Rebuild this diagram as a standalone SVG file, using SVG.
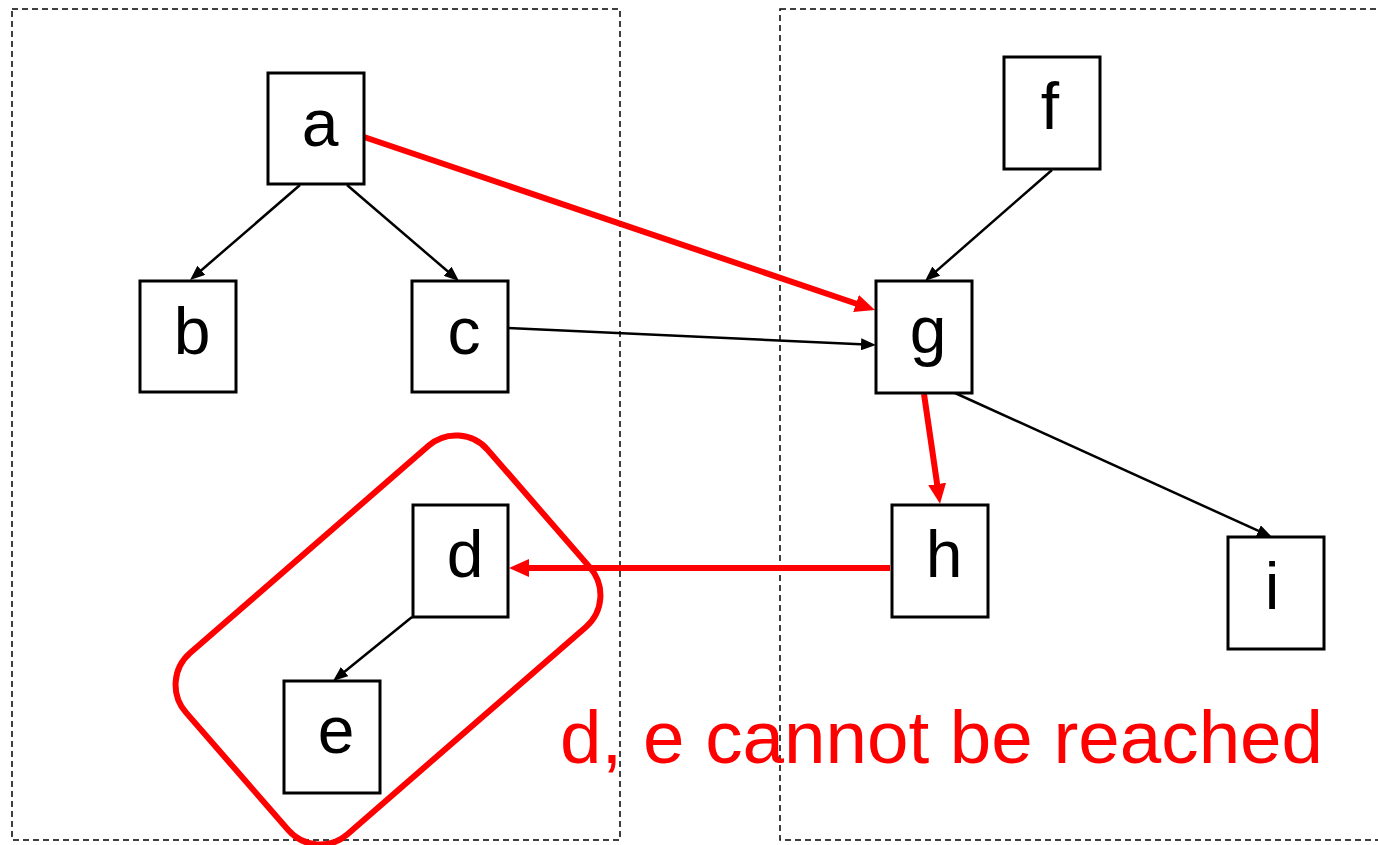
<svg xmlns="http://www.w3.org/2000/svg" width="1378" height="845" viewBox="0 0 1378 845">
<style>
.frame{fill:none;stroke:#000;stroke-width:1.5;stroke-dasharray:6 4}
.node rect{fill:#fff;stroke:#000;stroke-width:3}
.node text{font-family:"Liberation Sans",Arial,sans-serif;font-size:66px;text-anchor:middle;fill:#000}
.blk{stroke:#000;stroke-width:2.5;fill:none;marker-end:url(#ab)}
.red{stroke:#f00;stroke-width:6;fill:none;marker-end:url(#ar)}
</style>
<defs>
<marker id="ab" markerUnits="userSpaceOnUse" markerWidth="15" markerHeight="12" refX="5" refY="6" orient="auto"><path d="M0,0 L15,6 L0,12 z" fill="#000"/></marker>
<marker id="ar" markerUnits="userSpaceOnUse" markerWidth="20" markerHeight="18" refX="6" refY="9" orient="auto"><path d="M0,0 L20,9 L0,18 z" fill="#f00"/></marker>
</defs>
<rect width="1378" height="845" fill="#fff"/>
<rect class="frame" x="12" y="9" width="608" height="831"/>
<rect class="frame" x="780" y="9" width="640" height="831"/>
<g id="connectors">
<line class="blk" x1="300" y1="185" x2="197.6" y2="273.5"/>
<line class="blk" x1="347" y1="185" x2="451.4" y2="274.5"/>
<line class="blk" x1="508" y1="328" x2="866" y2="344.5"/>
<line class="blk" x1="1052" y1="170" x2="932.5" y2="274.4"/>
<line class="blk" x1="955" y1="393" x2="1262.9" y2="532.9"/>
<line class="blk" x1="412" y1="617" x2="340.8" y2="674.7"/>
<line class="red" x1="364" y1="137" x2="861.7" y2="305.5"/>
<line class="red" x1="924" y1="394" x2="938" y2="490"/>
<line class="red" x1="890" y1="568" x2="523" y2="568"/>
</g>
<g id="node-a" class="node"><rect x="268" y="73" width="96" height="111"/><text x="320" y="146">a</text></g>
<g id="node-b" class="node"><rect x="140" y="281" width="96" height="111"/><text x="192" y="354">b</text></g>
<g id="node-c" class="node"><rect x="412" y="281" width="96" height="111"/><text x="464" y="354">c</text></g>
<g id="node-d" class="node"><rect x="413" y="505" width="95" height="112"/><text x="465" y="577">d</text></g>
<g id="node-e" class="node"><rect x="284" y="681" width="96" height="112"/><text x="336" y="753">e</text></g>
<g id="node-f" class="node"><rect x="1004" y="57" width="96" height="112"/><text x="1050" y="129">f</text></g>
<g id="node-g" class="node"><rect x="876" y="281" width="96" height="112"/><text x="928" y="353">g</text></g>
<g id="node-h" class="node"><rect x="892" y="505" width="96" height="112"/><text x="944" y="577">h</text></g>
<g id="node-i" class="node"><rect x="1228" y="537" width="96" height="112"/><text x="1272" y="609">i</text></g>
<g id="unreachable">
<rect x="-200" y="-120" width="400" height="240" rx="42" fill="none" stroke="#f00" stroke-width="6" transform="translate(388,640) rotate(-41)"/>
<text x="560" y="763" font-family="'Liberation Sans',Arial,sans-serif" font-size="74.6" fill="#f00">d, e cannot be reached</text>
</g>
</svg>
